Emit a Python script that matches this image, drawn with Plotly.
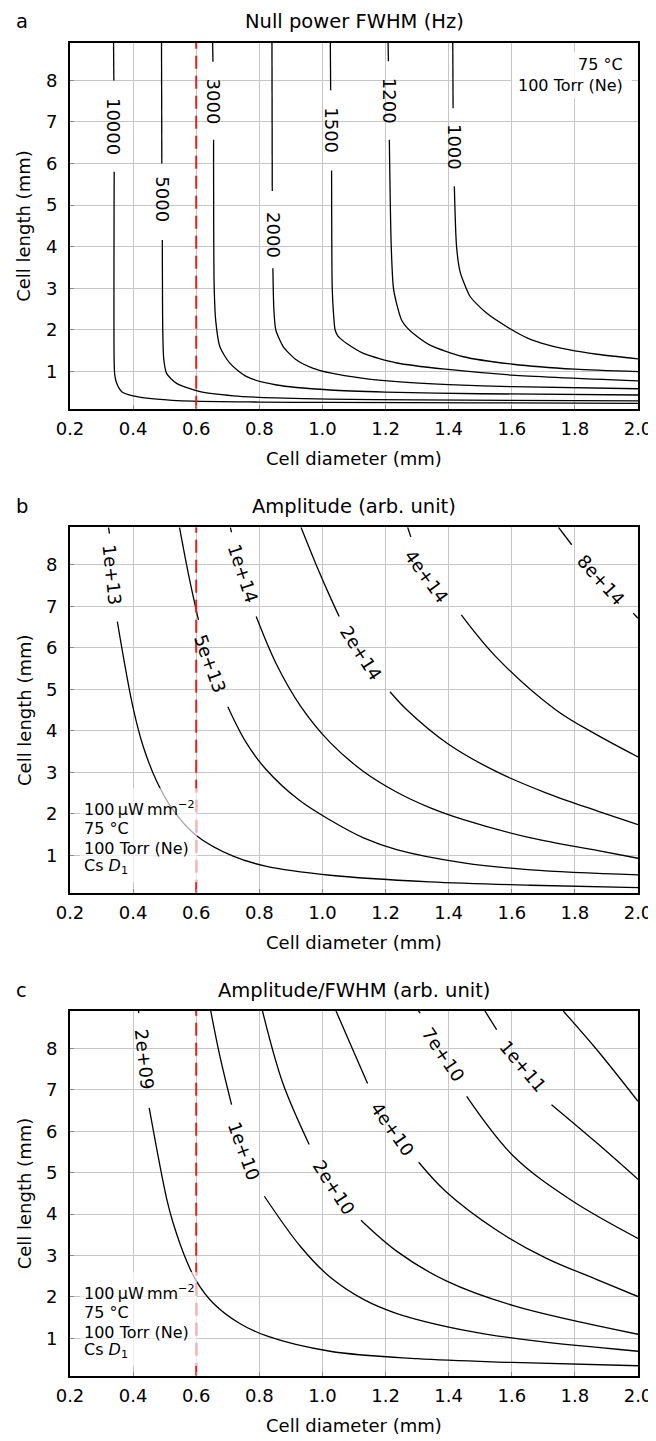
import plotly.graph_objects as go

# ---------------- axis ticks ----------------
x_ticks = [0.2, 0.4, 0.6, 0.8, 1.0, 1.2, 1.4, 1.6, 1.8, 2.0]
x_ticktext = ["0.2", "0.4", "0.6", "0.8", "1.0", "1.2", "1.4", "1.6", "1.8", "2.0"]
y_ticks = [1, 2, 3, 4, 5, 6, 7, 8]
x_range = [0.2, 2.0]
y_range = [0.1, 8.9]
d_marker = 0.6  # red dashed reference diameter (mm)

# ---------------- panel a : Null power FWHM (Hz) ----------------
a_levels = ["10000", "5000", "3000", "2000", "1500", "1200", "1000"]
a_10000_x = [0.338, 0.339, None, 0.340, 0.340, 0.342, 0.348, 0.364, 0.40, 0.475, 0.59, 0.8, 1.02, 1.5, 2.0]
a_10000_y = [8.9, 8.0, None, 5.80, 1.2, 0.90, 0.71, 0.51, 0.41, 0.33, 0.28, 0.26, 0.25, 0.24, 0.23]
a_5000_x = [0.490, 0.491, None, 0.4926, 0.494, 0.497, 0.506, 0.538, 0.612, 0.718, 0.85, 1.02, 1.3, 1.6, 2.0]
a_5000_y = [8.9, 6.0, None, 4.16, 2.0, 1.3, 0.95, 0.71, 0.51, 0.41, 0.36, 0.33, 0.31, 0.30, 0.29]
a_3000_x = [0.652, 0.653, None, 0.655, 0.657, 0.662, 0.675, 0.707, 0.76, 0.855, 1.024, 1.2, 1.5, 2.0]
a_3000_y = [8.9, 8.45, None, 6.57, 3.0, 2.2, 1.59, 1.19, 0.87, 0.67, 0.55, 0.50, 0.46, 0.43]
a_2000_x = [0.840, 0.841, None, 0.843, 0.846, 0.852, 0.862, 0.876, 0.918, 0.971, 1.024, 1.13, 1.236, 1.4, 1.6, 2.0]
a_2000_y = [8.9, 5.34, None, 3.48, 2.5, 2.0, 1.80, 1.59, 1.27, 1.07, 0.96, 0.83, 0.75, 0.68, 0.63, 0.58]
a_1500_x = [1.025, 1.026, None, 1.029, 1.031, 1.035, 1.04, 1.048, 1.058, 1.077, 1.13, 1.236, 1.39, 1.60, 2.0]
a_1500_y = [8.9, 7.76, None, 5.83, 3.0, 2.4, 2.0, 1.86, 1.78, 1.67, 1.43, 1.2, 1.05, 0.91, 0.77]
a_1200_x = [1.208, 1.209, None, 1.212, 1.218, 1.225, 1.236, 1.251, 1.268, 1.288, 1.341, 1.447, 1.604, 1.8, 2.0]
a_1200_y = [8.9, 8.46, None, 6.57, 4.0, 3.0, 2.6, 2.23, 2.05, 1.91, 1.63, 1.35, 1.17, 1.05, 0.99]
a_1000_x = [1.413, 1.414, None, 1.418, 1.425, 1.436, 1.45, 1.468, 1.52, 1.60, 1.65, 1.711, 1.78, 1.87, 2.0]
a_1000_y = [8.9, 7.33, None, 5.45, 4.0, 3.4, 3.1, 2.80, 2.40, 2.0, 1.80, 1.64, 1.52, 1.41, 1.30]

# ---------------- panel b : Amplitude (arb. unit) ----------------
b_levels = ["1e+13", "5e+13", "1e+14", "2e+14", "4e+14", "8e+14"]
b_1e13_x = [0.322, 0.325, None, 0.35, 0.40, 0.432, 0.475, 0.527, 0.60, 0.717, 0.82, 1.024, 1.34, 1.66, 2.0]
b_1e13_y = [8.9, 8.75, None, 6.63, 4.55, 3.62, 2.78, 2.09, 1.48, 0.98, 0.74, 0.52, 0.36, 0.28, 0.22]
b_5e13_x = [0.547, 0.576, 0.607, None, 0.70, 0.758, 0.82, 0.926, 1.024, 1.13, 1.235, 1.447, 1.66, 2.0]
b_5e13_y = [8.9, 7.75, 6.67, None, 4.58, 3.72, 3.08, 2.33, 1.85, 1.42, 1.14, 0.82, 0.65, 0.53]
b_1e14_x = [0.708, 0.712, None, 0.79, 0.853, 0.93, 1.024, 1.13, 1.236, 1.34, 1.447, 1.66, 1.87, 2.0]
b_1e14_y = [8.9, 8.78, None, 6.75, 5.62, 4.6, 3.72, 3.02, 2.52, 2.15, 1.86, 1.42, 1.12, 0.93]
b_2e14_x = [0.932, 0.98, 1.024, 1.053, None, 1.214, 1.268, 1.395, 1.55, 1.71, 1.87, 2.0]
b_2e14_y = [8.9, 8.0, 7.23, 6.75, None, 4.94, 4.5, 3.70, 3.02, 2.50, 2.07, 1.74]
b_4e14_x = [1.27, 1.28, None, 1.44, 1.55, 1.74, 1.87, 2.0]
b_4e14_y = [8.9, 8.67, None, 6.79, 5.78, 4.5, 3.90, 3.37]
b_8e14_x = [1.748, 1.79, None, 1.985, 2.0]
b_8e14_y = [8.9, 8.48, None, 6.83, 6.71]

# ---------------- panel c : Amplitude/FWHM (arb. unit) ----------------
c_levels = ["2e+09", "1e+10", "2e+10", "4e+10", "7e+10", "1e+11"]
c_2e09_x = [0.417, 0.418, None, 0.451, 0.506, 0.527, 0.57, 0.60, 0.654, 0.738, 0.823, 1.024, 1.3, 1.6, 2.0]
c_2e09_y = [8.9, 8.85, None, 6.56, 4.38, 3.78, 2.86, 2.39, 1.85, 1.36, 1.06, 0.69, 0.51, 0.42, 0.34]
c_1e10_x = [0.646, 0.675, 0.712, None, 0.816, 0.929, 1.024, 1.13, 1.236, 1.447, 1.66, 2.0]
c_1e10_y = [8.9, 7.81, 6.64, None, 4.43, 3.23, 2.48, 1.94, 1.60, 1.20, 0.95, 0.69]
c_2e10_x = [0.81, 0.874, 0.958, None, 1.122, 1.236, 1.394, 1.605, 2.0]
c_2e10_y = [8.9, 7.17, 5.68, None, 3.85, 3.10, 2.38, 1.79, 1.10]
c_4e10_x = [1.043, 1.096, 1.143, None, 1.305, 1.39, 1.55, 1.71, 1.87, 2.0]
c_4e10_y = [8.9, 7.97, 7.15, None, 5.25, 4.55, 3.62, 2.93, 2.42, 2.01]
c_7e10_x = [1.304, 1.31, None, 1.457, 1.605, 1.785, 2.0]
c_7e10_y = [8.9, 8.85, None, 6.84, 5.40, 4.35, 3.41]
c_1e11_x = [1.515, 1.552, None, 1.726, 1.869, 2.0]
c_1e11_y = [8.9, 8.45, None, 6.64, 5.72, 4.84]
c_top_x = [1.763, 1.869, 2.0]
c_top_y = [8.9, 7.97, 6.72]

# ---------------- contour label placement ----------------
a_lab_x = [0.340, 0.4926, 0.655, 0.843, 1.029, 1.212, 1.418]
a_lab_y = [6.90, 5.13, 7.50, 4.28, 6.81, 7.50, 6.39]
a_lab_ang = [90, 90, 90, 90, 90, 90, 90]
b_lab_x = [0.335, 0.644, 0.749, 1.124, 1.33, 1.885]
b_lab_y = [7.75, 5.62, 7.79, 5.87, 7.71, 7.63]
b_lab_ang = [84, 70, 72, 57, 54, 48]
c_lab_x = [0.436, 0.753, 1.037, 1.223, 1.383, 1.637]
c_lab_y = [7.73, 5.52, 4.65, 6.04, 7.85, 7.57]
c_lab_ang = [84, 70, 57, 55, 56, 50]

# ---------------- geometry (screen pixels; page body has an 8px margin) ----------------
SCR_W, SCR_H = 656, 1441
OFF = 8
W, H = SCR_W - OFF, SCR_H - OFF
ML, MR, MT, MB = 70 - OFF, 18, 43 - OFF, 65
PW = W - ML - MR
PH = H - MT - MB


def px(xp):  # screen x pixel -> paper
    return (xp - 70) / PW


def py(yp):  # screen y pixel -> paper
    return (SCR_H - MB - yp) / PH


panels = [
    dict(top=43.0, bot=408.7, title="Null power FWHM (Hz)", letter="a",
         curves=[(a_10000_x, a_10000_y), (a_5000_x, a_5000_y), (a_3000_x, a_3000_y),
                 (a_2000_x, a_2000_y), (a_1500_x, a_1500_y), (a_1200_x, a_1200_y),
                 (a_1000_x, a_1000_y)],
         smooth=0.7,
         labels=(a_levels, a_lab_x, a_lab_y, a_lab_ang)),
    dict(top=527.3, bot=892.7, title="Amplitude (arb. unit)", letter="b",
         curves=[(b_1e13_x, b_1e13_y), (b_5e13_x, b_5e13_y), (b_1e14_x, b_1e14_y),
                 (b_2e14_x, b_2e14_y), (b_4e14_x, b_4e14_y), (b_8e14_x, b_8e14_y)],
         smooth=1.0,
         labels=(b_levels, b_lab_x, b_lab_y, b_lab_ang)),
    dict(top=1011.0, bot=1375.7, title="Amplitude/FWHM (arb. unit)", letter="c",
         curves=[(c_2e09_x, c_2e09_y), (c_1e10_x, c_1e10_y), (c_2e10_x, c_2e10_y),
                 (c_4e10_x, c_4e10_y), (c_7e10_x, c_7e10_y), (c_1e11_x, c_1e11_y),
                 (c_top_x, c_top_y)],
         smooth=1.0,
         labels=(c_levels, c_lab_x, c_lab_y, c_lab_ang)),
]

FONT = "DejaVu Sans"
fig = go.Figure()
annotations = []
shapes = []

for i, p in enumerate(panels):
    k = "" if i == 0 else str(i + 1)
    xa, ya = "x" + k, "y" + k
    for cx, cy in p["curves"]:
        fig.add_trace(go.Scatter(x=cx, y=cy, mode="lines", xaxis=xa, yaxis=ya,
                                 line=dict(color="black", width=1.3, shape="spline", smoothing=p["smooth"]),
                                 connectgaps=False, hoverinfo="skip"))
    fig.add_trace(go.Scatter(x=[d_marker, d_marker], y=y_range, mode="lines", xaxis=xa, yaxis=ya,
                             line=dict(color="#e0201c", width=2, dash="13px,7px"), hoverinfo="skip"))
    labs, lx, ly, la = p["labels"]
    for t, x0, y0, ang in zip(labs, lx, ly, la):
        annotations.append(dict(text=t, x=x0, y=y0, xref=xa, yref=ya, showarrow=False,
                                textangle=ang, font=dict(family=FONT, size=18, color="black")))
    common = dict(showline=True, linecolor="black", linewidth=2, mirror=True, automargin=False,
                  showgrid=True, gridcolor="#c6c6c6", gridwidth=1.3, zeroline=False,
                  ticks="inside", ticklen=4, tickcolor="#8a8a8a", tickwidth=1.3,
                  tickfont=dict(family=FONT, size=18, color="black"))
    fig.layout["xaxis" + k] = dict(domain=[0, 1], range=x_range, tickvals=x_ticks,
                                   ticktext=x_ticktext, anchor=ya, ticklabelstandoff=3, **common)
    fig.layout["yaxis" + k] = dict(domain=[py(p["bot"]), py(p["top"])], range=y_range,
                                   tickvals=y_ticks, anchor=xa, ticklabelstandoff=7, **common)
    annotations.append(dict(text=p["title"], x=px(354), y=py(p["top"] - 21), xref="paper", yref="paper",
                            showarrow=False, font=dict(family=FONT, size=19.5, color="black"),
                            xanchor="center", yanchor="middle"))
    annotations.append(dict(text=p["letter"], x=px(14), y=py(p["top"] - 21), xref="paper", yref="paper",
                            showarrow=False, font=dict(family=FONT, size=19.5, color="black"),
                            xanchor="left", yanchor="middle"))
    annotations.append(dict(text="Cell diameter (mm)", x=px(354), y=py(p["bot"] + 50), xref="paper",
                            yref="paper", showarrow=False, font=dict(family=FONT, size=18, color="black"),
                            xanchor="center", yanchor="middle"))
    annotations.append(dict(text="Cell length (mm)", x=px(24), y=py((p["top"] + p["bot"]) / 2),
                            xref="paper", yref="paper", showarrow=False, textangle=-90,
                            font=dict(family=FONT, size=18, color="black"),
                            xanchor="center", yanchor="middle"))

shapes.append(dict(type="rect", xref="paper", yref="paper", x0=px(512), x1=px(632), y0=py(98), y1=py(52),
                   fillcolor="rgba(255,255,255,0.85)", line=dict(width=0), layer="above"))
for t, yy in [("75 °C", 65), ("100 Torr (Ne)", 86)]:
    annotations.append(dict(text=t, x=px(625), y=py(yy), xref="paper", yref="paper", showarrow=False,
                            xanchor="right", yanchor="middle", font=dict(family=FONT, size=16, color="black")))

note_lines = ["100\u2009\u03bcW\u2009mm<sup>\u22122</sup>", "75 °C", "100 Torr (Ne)", "Cs <i>D</i><sub>1</sub>"]
for p in panels[1:]:
    off = p["top"]
    shapes.append(dict(type="rect", xref="paper", yref="paper", x0=px(80), x1=px(197),
                       y0=py(off + 355), y1=py(off + 261),
                       fillcolor="rgba(255,255,255,0.65)", line=dict(width=0), layer="above"))
    for t, dy in zip(note_lines, [281, 301, 321, 339]):
        annotations.append(dict(text=t, x=px(82), y=py(off + dy), xref="paper", yref="paper",
                                showarrow=False, xanchor="left", yanchor="middle",
                                font=dict(family=FONT, size=16, color="black")))

fig.update_layout(width=W, height=H, margin=dict(l=ML, r=MR, t=MT, b=MB, autoexpand=False),
                  plot_bgcolor="white", paper_bgcolor="white", showlegend=False,
                  font=dict(family=FONT, size=18, color="black"),
                  annotations=annotations, shapes=shapes)

fig.write_html("out.html")
